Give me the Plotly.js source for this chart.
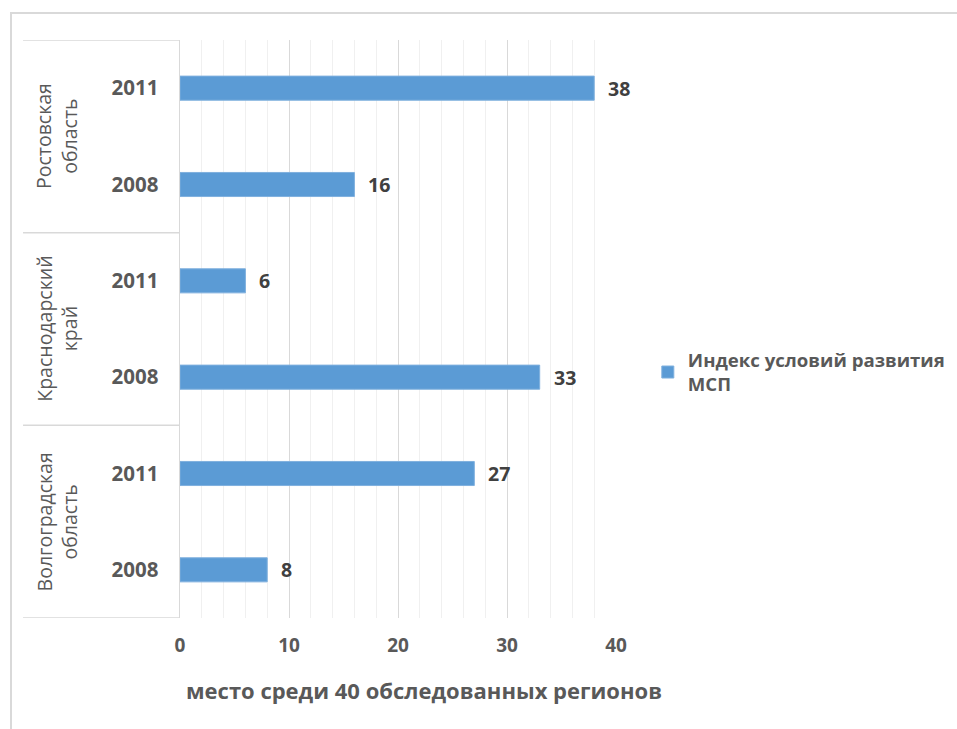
<!DOCTYPE html>
<html>
<head>
<meta charset="utf-8">
<script src="https://cdn.plot.ly/plotly-3.0.1.min.js"></script>
<style>
  html, body { margin: 0; padding: 0; background: #fff; }
  #frame { position: absolute; left: 10px; top: 12px; width: 960px; height: 730px;
           border-left: 2px solid #d9d9d9; border-top: 2px solid #d9d9d9; pointer-events: none; z-index: 5; }
  #chart { position: absolute; left: 0; top: 0; width: 957px; height: 729px; }
</style>
</head>
<body>
<div id="chart"></div>
<div id="frame"></div>
<script>
// Data (bottom to top, as drawn)
const regions = ['Волгоградская<br>область', 'Краснодарский<br>край', 'Ростовская<br>область'];
const years = ['2008', '2011'];
const valuesVolgograd = [8, 27];
const valuesKrasnodar = [33, 6];
const valuesRostov = [16, 38];
const seriesName = 'Индекс условий развития<br>МСП';
const xTitle = 'место среди 40 обследованных регионов';

const regionValues = [valuesVolgograd, valuesKrasnodar, valuesRostov];

const yPos = [], xVals = [], tickText = [];
regions.forEach((r, i) => {
  years.forEach((yr, j) => {
    yPos.push(i * years.length + j);
    xVals.push(regionValues[i][j]);
    tickText.push(yr);
  });
});

const grey = '#595959';
const font = 'Open Sans, Noto Sans, sans-serif';

const trace = {
  type: 'bar',
  orientation: 'h',
  x: xVals,
  y: yPos,
  name: seriesName,
  marker: { color: '#5B9BD5', line: { color: '#7fb0de', width: 1 } },
  showlegend: true,
  hoverinfo: 'x+y'
};

const nCat = yPos.length;
const shapes = [];
for (let i = 0; i <= regions.length; i++) {
  const yv = i * years.length - 0.5;
  shapes.push({
    type: 'line', xref: 'paper', yref: 'y',
    x0: -0.36, x1: 0, y0: yv, y1: yv,
    line: { color: '#d9d9d9', width: 1.5 }
  });
}

const annotations = regions.map((r, i) => ({
  text: r,
  xref: 'paper', yref: 'y',
  x: -0.347, y: i * years.length + (years.length - 1) / 2,
  textangle: -90,
  showarrow: false,
  align: 'center',
  font: { family: font, size: 19.5, color: grey }
}));
// data labels
xVals.forEach((v, k) => {
  annotations.push({
    text: String(v),
    xref: 'x', yref: 'y',
    x: v, y: yPos[k],
    xanchor: 'left', yanchor: 'middle',
    xshift: 12,
    showarrow: false,
    font: { family: font, size: 19.5, color: '#404040', weight: 'bold' }
  });
});
annotations.push({
  text: xTitle,
  xref: 'paper', yref: 'paper',
  x: 0.56, y: -0.125, yanchor: 'middle', xanchor: 'center',
  showarrow: false,
  font: { family: font, size: 22, color: grey, weight: 'bold' }
});

const layout = {
  width: 957, height: 729,
  margin: { l: 180, r: 341, t: 40, b: 111, autoexpand: false },
  paper_bgcolor: '#fff', plot_bgcolor: '#fff',
  bargap: 0.75,
  showlegend: true,
  legend: {
    x: 1.073, y: 0.425, xanchor: 'left', yanchor: 'middle',
    font: { family: font, size: 18.6, color: grey, weight: 'bold' },
    itemwidth: 30
  },
  xaxis: {
    range: [0, 40],
    dtick: 10,
    showgrid: true, gridcolor: '#d9d9d9', gridwidth: 1,
    zeroline: false,
    showline: false,
    ticks: '',
    ticklabelstandoff: 14,
    tickfont: { family: font, size: 19, color: grey, weight: 'bold' },
    minor: { dtick: 2, showgrid: true, gridcolor: '#f0f0f0', gridwidth: 1 }
  },
  yaxis: {
    range: [-0.5, nCat - 0.5],
    tickvals: yPos,
    ticktext: tickText,
    showgrid: false,
    zeroline: false,
    showline: true, linecolor: '#d9d9d9', linewidth: 1.5,
    ticks: '',
    ticklabelstandoff: 16,
    tickfont: { family: font, size: 20.5, color: grey, weight: 'bold' }
  },
  shapes: shapes,
  annotations: annotations
};

Plotly.newPlot('chart', [trace], layout, { displayModeBar: false, staticPlot: true });
</script>
</body>
</html>
